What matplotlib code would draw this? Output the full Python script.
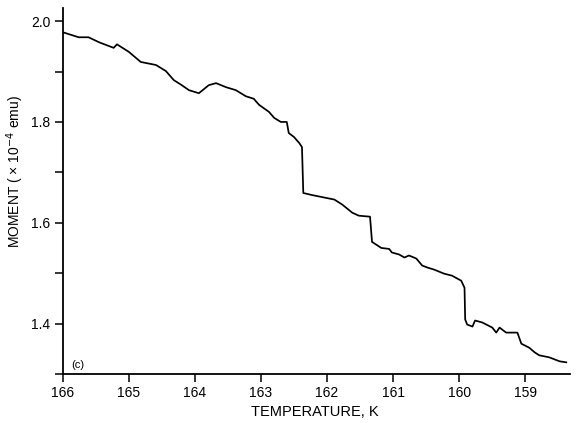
import matplotlib
matplotlib.use("Agg")
import matplotlib.pyplot as plt
from matplotlib.ticker import MultipleLocator

temperature = [166.00, 165.76, 165.61, 165.45, 165.23, 165.18, 165.00, 164.82, 164.59, 164.44,
               164.32, 164.20, 164.09, 163.94, 163.79, 163.68, 163.53, 163.38, 163.23, 163.11,
               163.03, 162.88, 162.80, 162.70, 162.61, 162.58, 162.50, 162.42, 162.38, 162.36,
               162.23, 162.08, 161.89, 161.77, 161.62, 161.52, 161.35, 161.32, 161.18, 161.06,
               161.02, 160.91, 160.83, 160.76, 160.65, 160.56, 160.48, 160.38, 160.23, 160.11,
               159.97, 159.92, 159.91, 159.88, 159.80, 159.76, 159.65, 159.50, 159.44, 159.39,
               159.29, 159.12, 159.06, 158.94, 158.86, 158.79, 158.64, 158.48, 158.38]
moment = [1.978, 1.968, 1.968, 1.958, 1.947, 1.954, 1.939, 1.919, 1.913, 1.901,
          1.883, 1.873, 1.863, 1.857, 1.873, 1.877, 1.869, 1.863, 1.851, 1.846,
          1.834, 1.820, 1.808, 1.800, 1.800, 1.778, 1.770, 1.758, 1.750, 1.659,
          1.655, 1.651, 1.646, 1.636, 1.620, 1.614, 1.612, 1.562, 1.550, 1.548,
          1.541, 1.537, 1.531, 1.535, 1.529, 1.515, 1.511, 1.507, 1.499, 1.495,
          1.485, 1.471, 1.408, 1.398, 1.394, 1.406, 1.402, 1.392, 1.382, 1.392,
          1.382, 1.382, 1.360, 1.352, 1.343, 1.337, 1.333, 1.325, 1.323]
x_ticks = [166, 165, 164, 163, 162, 161, 160, 159]
y_ticks = [1.4, 1.6, 1.8, 2.0]

plt.rcParams['font.family'] = ['Liberation Sans', 'DejaVu Sans']

fig = plt.figure(figsize=(5.76, 4.23), dpi=100)
ax = fig.add_axes([0.109, 0.116, 0.881, 0.865])
ax.plot(temperature, moment, color='black', lw=1.25)

ax.set_xlim(166, 158.32)
ax.set_ylim(1.30, 2.026)
ax.set_xticks(x_ticks)
ax.set_xticklabels([str(t) for t in x_ticks])
ax.set_yticks(y_ticks)
ax.set_yticklabels([f"{v:.1f}" for v in y_ticks])
ax.yaxis.set_minor_locator(MultipleLocator(0.1))

for s in ['top', 'right']:
    ax.spines[s].set_visible(False)
for s in ['left', 'bottom']:
    ax.spines[s].set_linewidth(1.3)

ax.tick_params(axis='both', which='both', direction='out', width=1.1, labelsize=10)
ax.tick_params(axis='both', which='major', length=6, pad=3)
ax.tick_params(axis='y', which='minor', length=6)

ax.set_xlabel('TEMPERATURE, K', fontsize=10.5)
ax.xaxis.set_label_coords(0.497, -0.085)
ax.set_ylabel('MOMENT ( × 10$^{-4}$ emu)', fontsize=10)
ax.yaxis.set_label_coords(-0.072, 0.552)
ax.text(0.016, 0.012, '(c)', transform=ax.transAxes, fontsize=8, va='bottom')

fig.savefig('out.png', dpi=100)
